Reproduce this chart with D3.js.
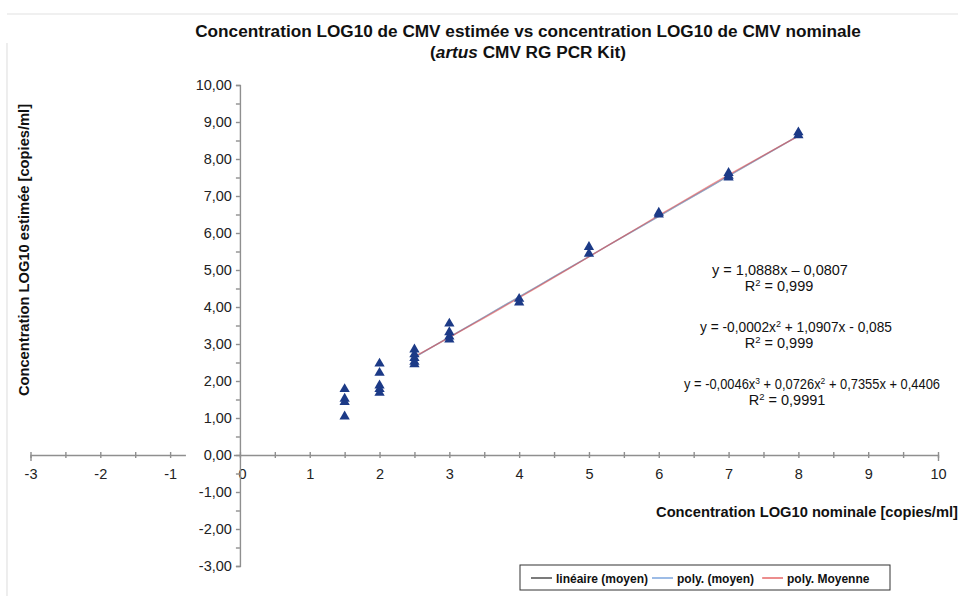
<!DOCTYPE html>
<html>
<head>
<meta charset="utf-8">
<script src="https://cdn.jsdelivr.net/npm/d3@7"></script>
<style>
  body { margin: 0; background: #fff; }
  svg { display: block; font-family: "Liberation Sans", Arial, sans-serif; }
  .axis path, .axis line { stroke: #8f8f8f; stroke-width: 1.4; }
  .axis text { fill: #222; font-size: 14.5px; }
  .bold { font-family: "Liberation Sans Narrow", "Liberation Sans", Arial, sans-serif; font-weight: bold; fill: #111; }
</style>
</head>
<body>
<svg width="963" height="596"></svg>
<script>
const width = 963;
const height = 596;

// nominal log10 concentration of each replicate
var nominal = [1.5, 1.5, 1.5, 1.5,
               2, 2, 2, 2, 2,
               2.5, 2.5, 2.5, 2.5, 2.5,
               3, 3, 3, 3,
               4, 4,
               5, 5,
               6, 6,
               7, 7, 7,
               8, 8];
// estimated log10 concentration
var estimated = [1.78, 1.52, 1.43, 1.04,
                 2.47, 2.22, 1.88, 1.78, 1.68,
                 2.85, 2.72, 2.62, 2.52, 2.45,
                 3.55, 3.32, 3.2, 3.12,
                 4.22, 4.12,
                 5.62, 5.44,
                 6.55, 6.5,
                 7.62, 7.55, 7.5,
                 8.72, 8.64];

var xTicks = d3.range(-3, 10.01, 0.5);
var yTicks = d3.range(-3, 10.01, 0.5);

// trend lines as printed on the chart
var trendNames = ["linéaire (moyen)", "poly. (moyen)", "poly. Moyenne"];
var trendColors = ["#222222", "#5b8fd6", "#e04040"];
var trendCoefs = [[-0.0807, 1.0888], [-0.085, 1.0907, -0.0002], [0.4406, 0.7355, 0.0726, -0.0046]];
var trendRange = [2.5, 8];
var equations = [
  ["y = 1,0888x – 0,0807", "0,999"],
  ["y = -0,0002x|2| + 1,0907x - 0,085", "0,999"],
  ["y = -0,0046x|3| + 0,0726x|2| + 0,7355x + 0,4406", "0,9991"]
];

var svg = d3.select("svg");
var locale = d3.formatLocale({decimal: ",", thousands: " ", grouping: [3], currency: ["", ""], minus: "-"});
var fmtY = locale.format(".2f");

var x = d3.scaleLinear().domain([-3, 10]).range([30.5, 938]);
var y = d3.scaleLinear().domain([-3, 10]).range([566, 85]);

// faint frame from the scan
svg.append("line").attr("x1", 7).attr("x2", 958).attr("y1", 14).attr("y2", 14)
    .attr("stroke", "#e2e2e2").attr("stroke-width", 1.2);
svg.append("line").attr("x1", 7).attr("x2", 7).attr("y1", 43).attr("y2", 596)
    .attr("stroke", "#e2e2e2").attr("stroke-width", 1.2);

// title
var title = svg.append("text").attr("class", "bold").attr("x", 528).attr("text-anchor", "middle").style("font-size", "17.2px");
title.append("tspan").attr("x", 528).attr("y", 37).text("Concentration LOG10 de CMV estimée vs concentration LOG10 de CMV nominale");
var t2 = title.append("tspan").attr("x", 528).attr("y", 58);
t2.append("tspan").text("(");
t2.append("tspan").style("font-style", "italic").text("artus");
t2.append("tspan").text(" CMV RG PCR Kit)");

// x axis
var gx = svg.append("g").attr("class", "axis")
    .attr("transform", "translate(0," + y(0) + ")")
    .call(d3.axisBottom(x).tickValues(xTicks).tickSizeOuter(0).tickSize(6).tickPadding(8)
        .tickFormat(function (d) { return Number.isInteger(d) ? String(d) : ""; }));
gx.selectAll(".tick line").attr("y1", -3).attr("y2", 3);
gx.selectAll(".tick text").attr("dx", function (d) { return d === 0 ? 2 : 0; });

// y axis
var gy = svg.append("g").attr("class", "axis")
    .attr("transform", "translate(" + x(0) + ",0)")
    .call(d3.axisLeft(y).tickValues(yTicks).tickSizeOuter(0).tickSize(4).tickPadding(4)
        .tickFormat(function (d) { return Number.isInteger(d) ? fmtY(d) : ""; }));
gy.selectAll(".tick").filter(function (d) { return d === 0; })
    .insert("rect", "text").attr("x", -54).attr("y", -8).attr("width", 48).attr("height", 16).attr("fill", "#fff");

// axis titles
svg.append("text").attr("class", "bold").attr("x", 958).attr("y", 517)
    .attr("text-anchor", "end").style("font-size", "14.7px")
    .text("Concentration LOG10 nominale [copies/ml]");
svg.append("text").attr("class", "bold").attr("transform", "translate(29,250) rotate(-90)")
    .attr("text-anchor", "middle").style("font-size", "14.7px")
    .text("Concentration LOG10 estimée [copies/ml]");

// trend lines
var line = d3.line().x(function (d) { return x(d[0]); }).y(function (d) { return y(d[1]); });
trendCoefs.forEach(function (c, i) {
    var pts = d3.range(trendRange[0], trendRange[1] + 0.001, 0.25).map(function (v) {
        var s = 0;
        c.forEach(function (k, p) { s += k * Math.pow(v, p); });
        return [v, s];
    });
    svg.append("path").attr("d", line(pts)).attr("fill", "none")
        .attr("stroke", trendColors[i]).attr("stroke-width", 1.4)
        .attr("stroke-opacity", [0.3, 0.45, 0.55][i]);
});

// points
var sym = d3.symbol().type(d3.symbolTriangle).size(46);
svg.append("g").selectAll("path").data(nominal).join("path")
    .attr("d", sym)
    .attr("transform", function (d, i) { return "translate(" + x(d) + "," + y(estimated[i]) + ")"; })
    .attr("fill", "#1c3a87");

// equations
var eqPos = [[780, 275], [796, 332], [812, 389]];
var eqLen = [null, 192, 256];
var r2Pos = [779, 779, 787];
var eqFont = "14.5px";
equations.forEach(function (e, i) {
    var t = svg.append("text").attr("x", eqPos[i][0]).attr("y", eqPos[i][1])
        .attr("text-anchor", "middle").style("font-size", eqFont).attr("fill", "#111");
    if (eqLen[i]) t.attr("textLength", eqLen[i]).attr("lengthAdjust", "spacingAndGlyphs");
    e[0].split("|").forEach(function (part, j) {
        var s = t.append("tspan").text(part);
        if (j % 2 === 1) s.attr("dy", -5).style("font-size", "9.5px");
        else if (j > 0) s.attr("dy", 5);
    });
    var r = svg.append("text").attr("x", r2Pos[i]).attr("y", eqPos[i][1] + 16)
        .attr("text-anchor", "middle").style("font-size", eqFont).attr("fill", "#111");
    r.append("tspan").text("R");
    r.append("tspan").attr("dy", -5).style("font-size", "9.5px").text("2");
    r.append("tspan").attr("dy", 5).text(" = " + e[1]);
});

// legend
var lg = svg.append("g").attr("transform", "translate(520,565)");
lg.append("rect").attr("width", 370).attr("height", 25).attr("fill", "#fff")
    .attr("stroke", "#333").attr("stroke-width", 1);
var lgX = [11, 132, 242];
trendNames.forEach(function (n, i) {
    lg.append("line").attr("x1", lgX[i]).attr("x2", lgX[i] + 21).attr("y1", 13).attr("y2", 13)
        .attr("stroke", trendColors[i]).attr("stroke-width", 1.2);
    lg.append("text").attr("class", "bold").attr("x", lgX[i] + 25).attr("y", 17.5)
        .style("font-size", "12px").text(n);
});
</script>
</body>
</html>
